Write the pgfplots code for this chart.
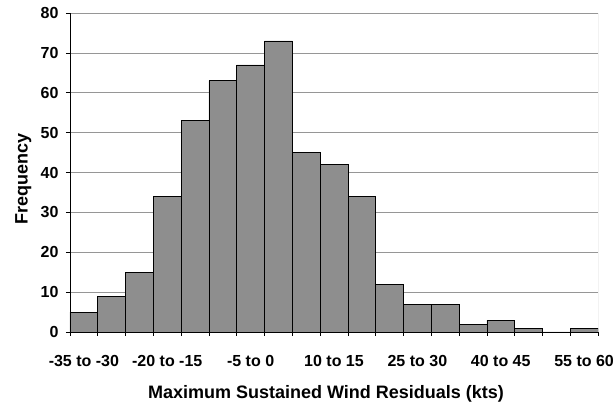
\documentclass[border=0pt]{standalone}
\usepackage{pgfplots}
\pgfplotsset{compat=1.18}
\usepackage{fontspec}
\setmainfont{Liberation Sans}

\definecolor{barfill}{RGB}{142,142,142}
\definecolor{gridc}{RGB}{150,150,150}

\begin{document}
\begin{tikzpicture}
  \begin{axis}[
    name=ax,
    at={(0,0)}, anchor=south west,
    scale only axis,
    width=528pt, height=319pt,
    ybar, bar width=1, bar shift=0pt,
    xmin=-0.5, xmax=18.5,
    ymin=0, ymax=80,
    ytick={0,10,...,80},
    axis x line*=bottom,
    axis y line*=left,
    axis line style={black, line width=0.8pt},
    ymajorgrids,
    grid style={gridc, line width=0.6pt},
    tick align=outside,
    major tick length=4pt,
    tick style={black, line width=0.6pt},
    xtick={-0.5,0.5,...,18.5},
    xticklabels={},
    extra x ticks={0,3,6,9,12,15,18},
    extra x tick labels={-35 to -30,-20 to -15,-5 to 0,10 to 15,25 to 30,40 to 45,55 to 60},
    extra x tick style={major tick length=0pt, grid=none,
      tick label style={yshift=-20pt}},
    ticklabel style={font=\fontsize{16}{19}\selectfont\bfseries},
    yticklabel style={xshift=-4pt},
    /pgf/number format/assume math mode=true,
    xlabel={Maximum Sustained Wind Residuals (kts)},
    ylabel={Frequency},
    label style={font=\fontsize{18}{21}\selectfont\bfseries},
    xlabel style={at={(axis description cs:0.5,0)}, anchor=north, yshift=-50pt, xshift=-8pt},
    ylabel style={at={(axis description cs:0,0.48)}, anchor=south, yshift=35pt},
  ]
  \addplot[draw=black, line width=0.6pt, fill=barfill] coordinates {
    (0,5) (1,9) (2,15) (3,34) (4,53) (5,63) (6,67) (7,73) (8,45) (9,42)
    (10,34) (11,12) (12,7) (13,7) (14,2) (15,3) (16,1) (17,0) (18,1)
  };
  \draw[gridc, line width=0.6pt] (rel axis cs:1,0) -- (rel axis cs:1,1);
  \end{axis}
  \pgfresetboundingbox
  \path[use as bounding box] ([shift={(-70pt,-77pt)}]ax.south west) rectangle ([shift={(15pt,13pt)}]ax.north east);
\end{tikzpicture}
\end{document}
